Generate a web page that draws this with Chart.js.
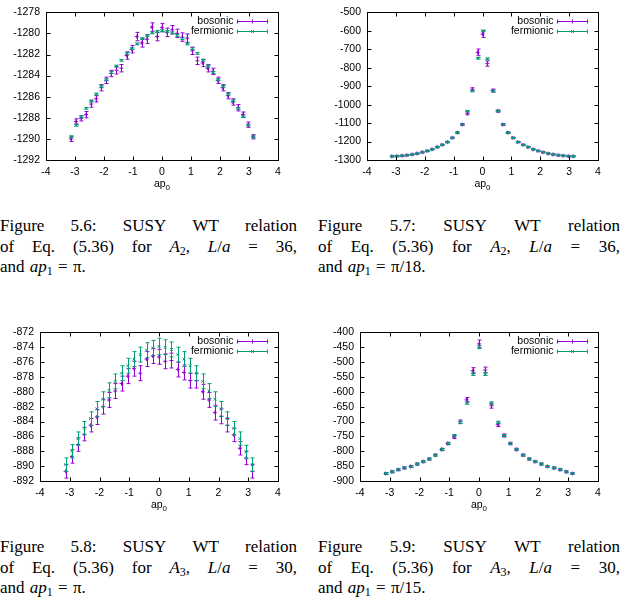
<!DOCTYPE html>
<html>
<head>
<meta charset="utf-8">
<script src="https://cdn.jsdelivr.net/npm/chart.js@4.4.1/dist/chart.umd.min.js"></script>
<style>
body { margin: 0; width: 623px; height: 604px; background: #fff; position: relative; overflow: hidden; }
canvas.panel { position: absolute; }
.caption { position: absolute; font-family: "Liberation Serif", "Times New Roman", serif; font-size: 17px; line-height: 20.5px; color: #000; }
.caption .line { display: flex; justify-content: space-between; white-space: nowrap; }
.caption .last { white-space: nowrap; word-spacing: 1px; }
.sub { font-size: 12px; vertical-align: -3px; line-height: 0; }
</style>
</head>
<body>
<canvas id="Chart56" class="panel" width="310" height="200" style="left:0px;top:0px"></canvas>
<canvas id="Chart57" class="panel" width="313" height="200" style="left:310px;top:0px"></canvas>
<canvas id="Chart58" class="panel" width="310" height="200" style="left:0px;top:320px"></canvas>
<canvas id="Chart59" class="panel" width="313" height="200" style="left:310px;top:320px"></canvas>

<div class="caption" style="left:0px;top:216px;width:297px">
  <div class="line"><span>Figure</span><span>5.6:</span><span>SUSY</span><span>WT</span><span>relation</span></div>
  <div class="line"><span>of</span><span>Eq.</span><span>(5.36)</span><span>for</span><span><i>A</i><span class="sub">2</span>,</span><span><i>L</i>/<i>a</i></span><span>=</span><span>36,</span></div>
  <div class="last">and <i>ap</i><span class="sub">1</span> = π.</div>
</div>
<div class="caption" style="left:318px;top:216px;width:302px">
  <div class="line"><span>Figure</span><span>5.7:</span><span>SUSY</span><span>WT</span><span>relation</span></div>
  <div class="line"><span>of</span><span>Eq.</span><span>(5.36)</span><span>for</span><span><i>A</i><span class="sub">2</span>,</span><span><i>L</i>/<i>a</i></span><span>=</span><span>36,</span></div>
  <div class="last">and <i>ap</i><span class="sub">1</span> = π/18.</div>
</div>
<div class="caption" style="left:0px;top:537px;width:297px">
  <div class="line"><span>Figure</span><span>5.8:</span><span>SUSY</span><span>WT</span><span>relation</span></div>
  <div class="line"><span>of</span><span>Eq.</span><span>(5.36)</span><span>for</span><span><i>A</i><span class="sub">3</span>,</span><span><i>L</i>/<i>a</i></span><span>=</span><span>30,</span></div>
  <div class="last">and <i>ap</i><span class="sub">1</span> = π.</div>
</div>
<div class="caption" style="left:318px;top:537px;width:302px">
  <div class="line"><span>Figure</span><span>5.9:</span><span>SUSY</span><span>WT</span><span>relation</span></div>
  <div class="line"><span>of</span><span>Eq.</span><span>(5.36)</span><span>for</span><span><i>A</i><span class="sub">3</span>,</span><span><i>L</i>/<i>a</i></span><span>=</span><span>30,</span></div>
  <div class="last">and <i>ap</i><span class="sub">1</span> = π/15.</div>
</div>

<script>
const BosonicColor = '#9400D3';
const FermionicColor = '#009E73';
const AxisFont = '"Liberation Sans", Arial, sans-serif';

// ap0 values, L/a = 36 and L/a = 30
const Ap0L36 = [-3.14, -2.97, -2.79, -2.62, -2.44, -2.27, -2.09, -1.92, -1.75, -1.57, -1.40, -1.22, -1.05, -0.87, -0.70, -0.52, -0.35, -0.17, 0,
    0.17, 0.35, 0.52, 0.70, 0.87, 1.05, 1.22, 1.40, 1.57, 1.75, 1.92, 2.09, 2.27, 2.44, 2.62, 2.79, 2.97, 3.14];
const Ap0L30 = [-3.14, -2.93, -2.72, -2.51, -2.30, -2.09, -1.88, -1.68, -1.47, -1.26, -1.05, -0.84, -0.63, -0.42, -0.21, 0,
    0.21, 0.42, 0.63, 0.84, 1.05, 1.26, 1.47, 1.68, 1.88, 2.09, 2.30, 2.51, 2.72, 2.93, 3.14];

// Fig 5.6: A2, L/a=36, ap1=pi
const Bosonic56 = [-1290.0, -1288.35, -1288.05, -1287.7, -1286.7, -1286.2, -1285.15, -1284.45, -1283.8, -1283.5, -1283.3, -1282.1, -1281.5, -1280.3, -1280.9, -1280.55, -1279.4, -1280.3, -1279.45,
    -1279.9, -1279.65, -1280.0, -1280.35, -1280.45, -1281.65, -1282.6, -1282.8, -1283.3, -1283.6, -1284.45, -1285.15, -1285.9, -1286.5, -1287.05, -1287.7, -1288.65, -1289.8];
const BosonicErr56 = [0.25, 0.25, 0.25, 0.3, 0.3, 0.3, 0.3, 0.3, 0.3, 0.35, 0.35, 0.35, 0.35, 0.4, 0.4, 0.4, 0.4, 0.4, 0.4,
    0.4, 0.4, 0.4, 0.4, 0.4, 0.35, 0.35, 0.35, 0.35, 0.3, 0.3, 0.3, 0.3, 0.3, 0.3, 0.25, 0.25, 0.2];
const Fermionic56 = [-1289.8, -1288.7, -1287.9, -1287.1, -1286.4, -1285.75, -1285.0, -1284.4, -1283.7, -1283.1, -1282.55, -1281.9, -1281.45, -1281.0, -1280.5, -1280.2, -1279.95, -1279.8, -1279.75,
    -1279.8, -1279.95, -1280.2, -1280.5, -1281.0, -1281.45, -1281.9, -1282.55, -1283.1, -1283.7, -1284.4, -1285.0, -1285.75, -1286.4, -1287.1, -1287.9, -1288.7, -1289.8];
const FermionicErr56 = [0.08, 0.08, 0.08, 0.08, 0.08, 0.08, 0.08, 0.08, 0.08, 0.08, 0.08, 0.08, 0.08, 0.08, 0.08, 0.08, 0.08, 0.08, 0.08,
    0.08, 0.08, 0.08, 0.08, 0.08, 0.08, 0.08, 0.08, 0.08, 0.08, 0.08, 0.08, 0.08, 0.08, 0.08, 0.08, 0.08, 0.08];

// Fig 5.7: A2, L/a=36, ap1=pi/18
const Bosonic57 = [-1280, -1279, -1277, -1274, -1270, -1265, -1258, -1251, -1242, -1230, -1218, -1203, -1180, -1152, -1108, -1047, -917, -717, -618,
    -778, -924, -1035, -1108, -1152, -1180, -1203, -1218, -1230, -1242, -1251, -1258, -1265, -1270, -1274, -1277, -1279, -1280];
const BosonicErr57 = [3, 3, 3, 3, 3, 3, 3, 3, 3, 3, 3, 3, 3, 4, 5, 8, 8, 18, 18,
    14, 8, 6, 5, 4, 3, 3, 3, 3, 3, 3, 3, 3, 3, 3, 3, 3, 3];
const Fermionic57 = [-1280, -1279, -1277, -1274, -1270, -1265, -1258, -1251, -1242, -1230, -1218, -1203, -1180, -1152, -1108, -1035, -926, -749, -601,
    -752, -926, -1035, -1108, -1152, -1180, -1203, -1218, -1230, -1242, -1251, -1258, -1265, -1270, -1274, -1277, -1279, -1280];
const FermionicErr57 = [2, 2, 2, 2, 2, 2, 2, 2, 2, 2, 2, 2, 2, 2, 3, 3, 4, 4, 4,
    4, 4, 3, 3, 2, 2, 2, 2, 2, 2, 2, 2, 2, 2, 2, 2, 2, 2];

// Fig 5.8: A3, L/a=30, ap1=pi
const Bosonic58 = [-890.7, -888.7, -887.1, -885.7, -884.5, -883.4, -882.0, -881.1, -879.9, -878.9, -877.9, -876.9, -877.5, -875.6, -875.2, -875.3,
    -875.9, -875.8, -877.0, -877.4, -878.5, -878.5, -880.0, -881.1, -882.8, -883.3, -884.5, -885.8, -887.6, -888.9, -890.7];
const BosonicErr58 = [0.9, 0.9, 0.9, 0.9, 0.9, 1.0, 1.0, 1.0, 1.0, 1.0, 1.0, 1.0, 1.0, 1.0, 1.0, 1.0,
    1.0, 1.0, 1.0, 1.0, 1.0, 1.0, 1.0, 1.0, 1.0, 1.0, 0.9, 0.9, 0.9, 0.9, 0.9];
const Fermionic58 = [-889.8, -888.0, -886.3, -884.9, -883.6, -882.3, -881.0, -879.8, -878.6, -877.5, -876.5, -875.6, -875.0, -874.4, -874.1, -873.9,
    -874.0, -874.3, -875.0, -875.6, -876.5, -877.5, -878.6, -879.9, -881.0, -882.3, -883.6, -884.9, -886.3, -888.1, -889.8];
const FermionicErr58 = [0.9, 0.9, 0.9, 0.9, 0.9, 1.0, 1.0, 1.0, 1.0, 1.0, 1.0, 1.0, 1.0, 1.0, 1.0, 1.1,
    1.0, 1.0, 1.0, 1.0, 1.0, 1.0, 1.0, 1.0, 1.0, 1.0, 0.9, 0.9, 0.9, 0.9, 0.9];

// Fig 5.9: A3, L/a=30, ap1=pi/15
const Bosonic59 = [-875, -869, -862, -856, -851, -843, -835, -826, -813, -794, -774, -752, -701, -627, -529, -439,
    -527, -647, -711, -747, -774, -794, -813, -826, -835, -843, -851, -856, -862, -869, -875];
const BosonicErr59 = [3, 3, 3, 3, 3, 3, 3, 3, 3, 4, 4, 5, 6, 8, 10, 13,
    10, 8, 6, 5, 4, 4, 3, 3, 3, 3, 3, 3, 3, 3, 3];
const Fermionic59 = [-875, -869, -862, -856, -851, -843, -835, -826, -813, -794, -774, -747, -703, -638, -540, -450,
    -540, -638, -703, -747, -774, -794, -813, -826, -835, -843, -851, -856, -862, -869, -875];
const FermionicErr59 = [3, 3, 3, 3, 3, 3, 3, 3, 3, 3, 3, 3, 4, 4, 5, 5,
    5, 4, 4, 3, 3, 3, 3, 3, 3, 3, 3, 3, 3, 3, 3];

Chart.defaults.font.family = AxisFont;
Chart.defaults.font.size = 10.5;
Chart.defaults.color = '#000';

// vertical error bars with small caps, drawn right after each dataset
const ErrorBarPlugin = {
    id: 'errorBars',
    afterDatasetDraw(chart, args) {
        const ds = chart.data.datasets[args.index];
        if (!ds.errors) return;
        const yScale = chart.scales.y;
        const ctx = chart.ctx;
        ctx.save();
        ctx.strokeStyle = ds.borderColor;
        ctx.lineWidth = 1;
        ctx.beginPath();
        args.meta.data.forEach((pt, i) => {
            const v = ds.data[i].y;
            const e = ds.errors[i];
            const x = Math.round(pt.x) + 0.5;
            const y1 = yScale.getPixelForValue(v - e);
            const y2 = yScale.getPixelForValue(v + e);
            ctx.moveTo(x, y1); ctx.lineTo(x, y2);
            ctx.moveTo(x - 2, y1); ctx.lineTo(x + 2, y1);
            ctx.moveTo(x - 2, y2); ctx.lineTo(x + 2, y2);
        });
        ctx.stroke();
        ctx.restore();
    }
};

// gnuplot-like border, inward mirrored ticks, x label with subscript and key
const FramePlugin = {
    id: 'gnuplotFrame',
    afterDatasetsDraw(chart) {
        const { ctx, chartArea: a, scales: { x, y } } = chart;
        const L = Math.round(a.left) + 0.5, R = Math.round(a.right) + 0.5;
        const T = Math.round(a.top) + 0.5, B = Math.round(a.bottom) + 0.5;
        ctx.save();
        ctx.strokeStyle = '#000';
        ctx.lineWidth = 1;
        ctx.strokeRect(L, T, R - L, B - T);
        ctx.beginPath();
        x.ticks.forEach(t => {
            const px = Math.round(x.getPixelForValue(t.value)) + 0.5;
            ctx.moveTo(px, B); ctx.lineTo(px, B - 4);
            ctx.moveTo(px, T); ctx.lineTo(px, T + 4);
        });
        y.ticks.forEach(t => {
            const py = Math.round(y.getPixelForValue(t.value)) + 0.5;
            ctx.moveTo(L, py); ctx.lineTo(L + 4, py);
            ctx.moveTo(R, py); ctx.lineTo(R - 4, py);
        });
        ctx.stroke();

        // x label "ap" with subscript 0
        ctx.fillStyle = '#000';
        ctx.textBaseline = 'alphabetic';
        ctx.textAlign = 'left';
        ctx.font = '10.5px ' + AxisFont;
        const mainW = ctx.measureText('ap').width;
        ctx.font = '8px ' + AxisFont;
        const subW = ctx.measureText('0').width;
        const startX = (a.left + a.right) / 2 - (mainW + subW) / 2;
        const baseY = a.bottom + 27;
        ctx.font = '10.5px ' + AxisFont;
        ctx.fillText('ap', startX, baseY);
        ctx.font = '8px ' + AxisFont;
        ctx.fillText('0', startX + mainW, baseY + 3);

        chart.data.datasets.forEach((ds, i) => {
            const rowY = Math.round(T + 8 + i * 10) + 0.5;
            const x1 = R - 41, x2 = R - 11;
            ctx.fillStyle = '#000';
            ctx.font = '10.5px ' + AxisFont;
            ctx.textAlign = 'right';
            ctx.textBaseline = 'middle';
            ctx.fillText(ds.label, R - 45, rowY);
            ctx.strokeStyle = ds.borderColor;
            ctx.beginPath();
            ctx.moveTo(x1, rowY); ctx.lineTo(x2, rowY);
            ctx.moveTo(x1, rowY - 2); ctx.lineTo(x1, rowY + 2);
            ctx.moveTo(x2, rowY - 2); ctx.lineTo(x2, rowY + 2);
            ctx.stroke();
            Chart.helpers.drawPoint(ctx, { pointStyle: ds.pointStyle, radius: 2, rotation: 0, borderWidth: 1 }, (x1 + x2) / 2, rowY);
        });
        ctx.restore();
    }
};

function ToPoints(xs, ys)
{
    return xs.map((x, i) => ({ x: x, y: ys[i] }));
}

function MakePanel(id, xs, bos, bosErr, fer, ferErr, yMin, yMax, yStep, yWidth, rightPad, xHeight)
{
    new Chart(document.getElementById(id),
    {
        type: 'scatter',
        data:
        {
            datasets: [
                {
                    label: 'bosonic',
                    data: ToPoints(xs, bos),
                    errors: bosErr,
                    borderColor: BosonicColor,
                    backgroundColor: BosonicColor,
                    pointStyle: 'cross',
                    pointRadius: 2,
                    borderWidth: 1,
                    order: 1
                },
                {
                    label: 'fermionic',
                    data: ToPoints(xs, fer),
                    errors: ferErr,
                    borderColor: FermionicColor,
                    backgroundColor: FermionicColor,
                    pointStyle: 'crossRot',
                    pointRadius: 2,
                    borderWidth: 1,
                    order: 0
                }
            ]
        },
        options:
        {
            responsive: false,
            animation: false,
            layout: { padding: { top: 7, right: rightPad, left: 0, bottom: 0 } },
            plugins: { legend: { display: false }, tooltip: { enabled: false } },
            scales:
            {
                x:
                {
                    type: 'linear',
                    min: -4,
                    max: 4,
                    grid: { display: false, drawTicks: false },
                    border: { display: false },
                    ticks: { stepSize: 1, padding: 6, autoSkip: false, maxRotation: 0, callback: v => String(v) },
                    afterFit: s => { s.height = xHeight; }
                },
                y:
                {
                    min: yMin,
                    max: yMax,
                    grid: { display: false, drawTicks: false },
                    border: { display: false },
                    ticks: { stepSize: yStep, padding: 6, autoSkip: false, callback: v => String(v) },
                    afterFit: s => { s.width = yWidth; }
                }
            }
        },
        plugins: [ErrorBarPlugin, FramePlugin]
    });
}

MakePanel('Chart56', Ap0L36, Bosonic56, BosonicErr56, Fermionic56, FermionicErr56, -1292, -1278, 2, 46, 32, 40);
MakePanel('Chart57', Ap0L36, Bosonic57, BosonicErr57, Fermionic57, FermionicErr57, -1300, -500, 100, 57, 25, 40);
MakePanel('Chart58', Ap0L30, Bosonic58, BosonicErr58, Fermionic58, FermionicErr58, -892, -872, 2, 40, 32, 39);
MakePanel('Chart59', Ap0L30, Bosonic59, BosonicErr59, Fermionic59, FermionicErr59, -900, -400, 50, 50, 25, 39);
</script>
</body>
</html>
